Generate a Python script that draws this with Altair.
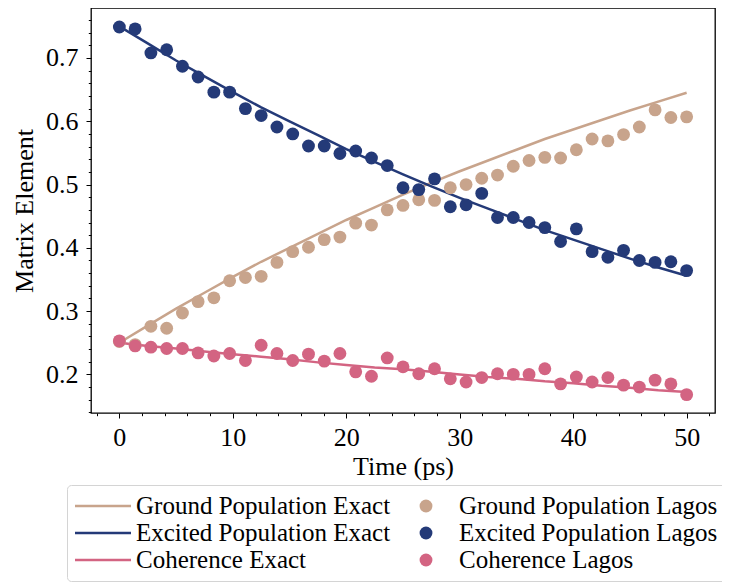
import altair as alt
import pandas as pd

# ---------------- data ----------------
t_lagos = [0.0, 1.39, 2.78, 4.17, 5.56, 6.94, 8.33, 9.72, 11.11, 12.5, 13.89, 15.28,
           16.67, 18.06, 19.44, 20.83, 22.22, 23.61, 25.0, 26.39, 27.78, 29.17, 30.56,
           31.94, 33.33, 34.72, 36.11, 37.5, 38.89, 40.28, 41.67, 43.06, 44.44, 45.83,
           47.22, 48.61, 50.0]
ground_lagos = [0.252, 0.247, 0.276, 0.273, 0.297, 0.315, 0.321, 0.348, 0.353, 0.355,
                0.377, 0.394, 0.401, 0.413, 0.417, 0.439, 0.436, 0.460, 0.467, 0.476,
                0.475, 0.495, 0.500, 0.510, 0.515, 0.529, 0.538, 0.543, 0.542, 0.555,
                0.572, 0.569, 0.579, 0.591, 0.618, 0.606, 0.607]
excited_lagos = [0.749, 0.746, 0.708, 0.713, 0.687, 0.670, 0.646, 0.646, 0.620, 0.609,
                 0.591, 0.580, 0.561, 0.561, 0.549, 0.553, 0.542, 0.530, 0.495, 0.492,
                 0.509, 0.465, 0.468, 0.486, 0.448, 0.448, 0.440, 0.432, 0.410, 0.430,
                 0.394, 0.385, 0.396, 0.380, 0.377, 0.378, 0.364]
coherence_lagos = [0.253, 0.245, 0.243, 0.241, 0.241, 0.234, 0.229, 0.233, 0.222, 0.246,
                   0.233, 0.222, 0.232, 0.221, 0.233, 0.204, 0.197, 0.226, 0.212, 0.201,
                   0.209, 0.193, 0.188, 0.195, 0.201, 0.200, 0.200, 0.209, 0.185, 0.196,
                   0.188, 0.195, 0.183, 0.180, 0.191, 0.185, 0.168]

t_exact = [0.0, 2.5, 5.0, 7.5, 10.0, 12.5, 15.0, 17.5, 20.0, 22.5, 25.0, 27.5, 30.0,
           32.5, 35.0, 37.5, 40.0, 42.5, 45.0, 47.5, 50.0]
ground_exact = [0.250, 0.277, 0.304, 0.329, 0.354, 0.378, 0.400, 0.422, 0.444, 0.464,
                0.484, 0.503, 0.521, 0.538, 0.555, 0.572, 0.587, 0.602, 0.617, 0.631, 0.645]
excited_exact = [0.750, 0.723, 0.696, 0.671, 0.646, 0.622, 0.600, 0.578, 0.556, 0.536,
                 0.516, 0.497, 0.479, 0.462, 0.445, 0.428, 0.413, 0.398, 0.383, 0.369, 0.356]
coherence_exact = [0.250, 0.245, 0.241, 0.236, 0.232, 0.228, 0.224, 0.219, 0.215, 0.211,
                   0.208, 0.204, 0.200, 0.196, 0.193, 0.189, 0.186, 0.182, 0.179, 0.175, 0.172]

# legend order (filled column by column: Exact curves, then Lagos points)
series_order = ["Ground Population Exact", "Excited Population Exact", "Coherence Exact",
                "Ground Population Lagos", "Excited Population Lagos", "Coherence Lagos"]
series_colors = ["#c8a48c", "#243a78", "#d36482", "#c8a48c", "#243a78", "#d36482"]
exact_order = ["Ground Population Exact", "Excited Population Exact", "Coherence Exact"]
exact_colors = ["#c8a48c", "#243a78", "#d36482"]

x_major = [0, 10, 20, 30, 40, 50]
x_minor = [-2, 2, 4, 6, 8, 12, 14, 16, 18, 22, 24, 26, 28, 32, 34, 36, 38, 42, 44, 46, 48, 52]
y_major = [0.2, 0.3, 0.4, 0.5, 0.6, 0.7]
y_minor = [0.14, 0.16, 0.18, 0.22, 0.24, 0.26, 0.28, 0.32, 0.34, 0.36, 0.38, 0.42, 0.44,
           0.46, 0.48, 0.52, 0.54, 0.56, 0.58, 0.62, 0.64, 0.66, 0.68, 0.72, 0.74, 0.76, 0.78]

# ---------------- tables ----------------
lines_df = pd.DataFrame({
    "t": t_exact * 3,
    "value": ground_exact + excited_exact + coherence_exact,
    "curve": (["Ground Population Exact"] * len(t_exact)
              + ["Excited Population Exact"] * len(t_exact)
              + ["Coherence Exact"] * len(t_exact)),
})
points_df = pd.DataFrame({
    "t": t_lagos * 3,
    "value": ground_lagos + excited_lagos + coherence_lagos,
    "series": (["Ground Population Lagos"] * len(t_lagos)
               + ["Excited Population Lagos"] * len(t_lagos)
               + ["Coherence Lagos"] * len(t_lagos)),
})

FONT = "Liberation Serif"
FS = 26
LINE_PATH = "M-2.154,-0.104L2.154,-0.104L2.154,0.104L-2.154,0.104Z"
shape_range = [LINE_PATH, LINE_PATH, LINE_PATH, "circle", "circle", "circle"]
size_range = [676, 676, 676, 165, 165, 165]

x_scale = alt.Scale(domain=[-2.5, 52.5], nice=False, zero=False)
y_scale = alt.Scale(domain=[0.139, 0.779], nice=False, zero=False)
color_scale = alt.Scale(domain=series_order, range=series_colors)
stroke_scale = alt.Scale(domain=exact_order, range=exact_colors)
shape_scale = alt.Scale(domain=series_order, range=shape_range)
size_scale = alt.Scale(type="ordinal", domain=series_order, range=size_range)

common_axis = dict(grid=False, domain=False, tickColor="black", tickWidth=1,
                   labelColor="black", titleColor="black", labelFont=FONT,
                   titleFont=FONT, labelFontSize=FS, titleFontSize=FS,
                   titleFontWeight="normal")
minor_axis = dict(labels=False, tickSize=2.7, title=None, grid=False, domain=False,
                  tickColor="black", tickWidth=1)

legend_def = dict(title=None, orient="none", legendX=-24, legendY=477,
                  columns=2, columnPadding=7, rowPadding=1, clipHeight=26,
                  symbolOffset=15, symbolStrokeWidth=0,
                  labelFont=FONT, labelFontSize=25, labelColor="black",
                  labelLimit=600, labelOffset=20, padding=8,
                  strokeColor="#d4d4d4", cornerRadius=4, fillColor="white")

lines = alt.Chart(lines_df).mark_line(strokeWidth=2.5).encode(
    x=alt.X("t:Q", scale=x_scale,
            axis=alt.Axis(values=x_major, format="d", tickSize=5, labelPadding=6,
                          titlePadding=3, title="Time (ps)", orient="bottom", **common_axis)),
    y=alt.Y("value:Q", scale=y_scale,
            axis=alt.Axis(values=y_major, format=".1f", tickSize=5, labelPadding=8,
                          titlePadding=8, title="Matrix Element", orient="left", **common_axis)),
    stroke=alt.Stroke("curve:N", scale=stroke_scale, legend=None),
    order=alt.Order("t:Q"),
)

points = alt.Chart(points_df).mark_point(filled=True, opacity=1, strokeWidth=0).encode(
    x=alt.X("t:Q", scale=x_scale, axis=alt.Axis(values=x_minor, orient="bottom", **minor_axis)),
    y=alt.Y("value:Q", scale=y_scale, axis=alt.Axis(values=y_minor, orient="left", **minor_axis)),
    color=alt.Color("series:N", scale=color_scale, legend=alt.Legend(**legend_def)),
    shape=alt.Shape("series:N", scale=shape_scale, legend=alt.Legend(**legend_def)),
    size=alt.Size("series:N", scale=size_scale, legend=alt.Legend(**legend_def)),
)

chart = alt.layer(lines, points).resolve_axis(x="independent", y="independent").properties(
    width=624, height=405,
    autosize=alt.AutoSizeParams(type="none"),
    padding={"left": 83, "top": 0, "right": 7, "bottom": 170},
).configure_view(stroke="black", strokeWidth=1.3)

chart.save("out.html", embed_options={"renderer": "svg", "actions": False})
